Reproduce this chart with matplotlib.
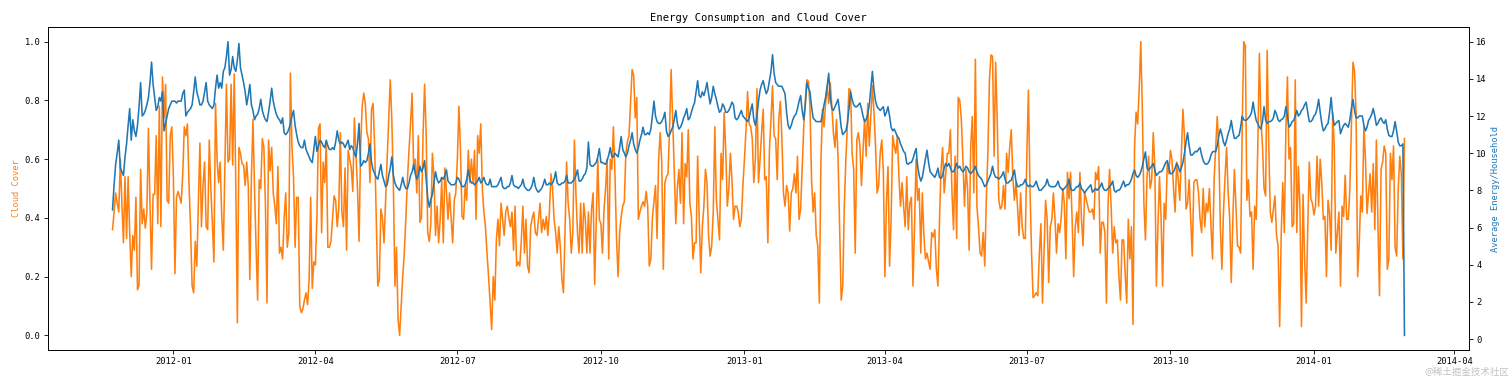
import matplotlib
matplotlib.use("Agg")
import matplotlib.pyplot as plt
import pandas as pd

# daily values, 2011-11-23 .. 2014-02-28
dates = pd.date_range("2011-11-23", "2014-02-28", freq="D")

cloud_cover = [
    0.36, 0.42, 0.485, 0.45, 0.42, 0.60, 0.45, 0.315, 0.54, 0.33,
    0.54, 0.35, 0.20, 0.34, 0.29, 0.47, 0.155, 0.17, 0.565, 0.38,
    0.43, 0.365, 0.42, 0.705, 0.45, 0.225, 0.48, 0.48, 0.68, 0.38,
    0.78, 0.37, 0.88, 0.74, 0.855, 0.46, 0.45, 0.68, 0.71, 0.54,
    0.21, 0.47, 0.49, 0.47, 0.45, 0.55, 0.71, 0.68, 0.72, 0.52,
    0.37, 0.168, 0.145, 0.32, 0.235, 0.45, 0.655, 0.37, 0.51, 0.59,
    0.37, 0.36, 0.665, 0.5, 0.38, 0.25, 0.79, 0.6, 0.52, 0.59,
    0.405, 0.29, 0.575, 0.855, 0.59, 0.6, 0.855, 0.58, 0.89, 0.51,
    0.043, 0.64, 0.62, 0.585, 0.58, 0.51, 0.59, 0.51, 0.19, 0.54,
    0.735, 0.5, 0.3, 0.12, 0.53, 0.5, 0.67, 0.64, 0.445, 0.11,
    0.665, 0.56, 0.64, 0.485, 0.44, 0.38, 0.575, 0.28, 0.3, 0.26,
    0.4, 0.485, 0.3, 0.35, 0.893, 0.64, 0.54, 0.3, 0.47, 0.47,
    0.1, 0.077, 0.09, 0.12, 0.145, 0.105, 0.19, 0.47, 0.16, 0.25,
    0.24, 0.405, 0.705, 0.72, 0.35, 0.59, 0.52, 0.66, 0.3, 0.3,
    0.32, 0.395, 0.475, 0.46, 0.37, 0.43, 0.69, 0.42, 0.37, 0.57,
    0.29, 0.63, 0.6, 0.57, 0.49, 0.74, 0.62, 0.5, 0.32, 0.64,
    0.78, 0.825, 0.79, 0.69, 0.67, 0.52, 0.77, 0.79, 0.64, 0.4,
    0.168, 0.19, 0.43, 0.4, 0.315, 0.46, 0.6, 0.735, 0.87, 0.735,
    0.51, 0.168, 0.3, 0.054, 0.0, 0.1, 0.2, 0.28, 0.4, 0.53,
    0.63, 0.72, 0.825, 0.565, 0.6, 0.485, 0.68, 0.385, 0.4, 0.68,
    0.855, 0.69, 0.35, 0.32, 0.38, 0.62, 0.54, 0.34, 0.44, 0.315,
    0.395, 0.53, 0.315, 0.57, 0.49, 0.395, 0.485, 0.4, 0.315, 0.46,
    0.485, 0.6, 0.78, 0.63, 0.405, 0.395, 0.51, 0.46, 0.63, 0.52,
    0.6, 0.52, 0.63, 0.395, 0.68, 0.62, 0.72, 0.5, 0.42, 0.37,
    0.28, 0.2, 0.11, 0.02, 0.2, 0.12, 0.325, 0.395, 0.305, 0.45,
    0.395, 0.34, 0.42, 0.44, 0.4, 0.37, 0.42, 0.29, 0.44, 0.236,
    0.25, 0.236, 0.325, 0.44, 0.28, 0.395, 0.236, 0.213, 0.37, 0.4,
    0.42, 0.35, 0.34, 0.395, 0.45, 0.35, 0.395, 0.36, 0.405, 0.34,
    0.42, 0.55, 0.5, 0.395, 0.35, 0.28, 0.37, 0.3, 0.19, 0.145,
    0.35, 0.59, 0.45, 0.395, 0.28, 0.35, 0.665, 0.48, 0.35, 0.28,
    0.45, 0.28, 0.45, 0.395, 0.28, 0.42, 0.28, 0.43, 0.485, 0.173,
    0.38, 0.6, 0.395, 0.38, 0.28, 0.43, 0.5, 0.6, 0.26, 0.6,
    0.565, 0.71, 0.55, 0.33, 0.2, 0.35, 0.405, 0.44, 0.455, 0.62,
    0.66, 0.68, 0.79, 0.905, 0.885, 0.74, 0.81, 0.395, 0.42, 0.44,
    0.455, 0.44, 0.49, 0.44, 0.236, 0.26, 0.4, 0.455, 0.51, 0.33,
    0.6, 0.69, 0.59, 0.225, 0.52, 0.54, 0.55, 0.7, 0.905, 0.735,
    0.565, 0.38, 0.5, 0.565, 0.45, 0.69, 0.38, 0.585, 0.54, 0.7,
    0.45, 0.405, 0.26, 0.315, 0.315, 0.61, 0.4, 0.213, 0.37, 0.44,
    0.565, 0.52, 0.34, 0.27, 0.305, 0.42, 0.71, 0.46, 0.395, 0.325,
    0.62, 0.53, 0.758, 0.63, 0.44, 0.5, 0.62, 0.53, 0.395, 0.44,
    0.44, 0.42, 0.37, 0.395, 0.51, 0.6, 0.7, 0.83, 0.72, 0.71,
    0.67, 0.52, 0.6, 0.84, 0.52, 0.6, 0.69, 0.77, 0.53, 0.54,
    0.315, 0.63, 0.735, 0.85, 0.68, 0.67, 0.53, 0.735, 0.797, 0.67,
    0.485, 0.44, 0.51, 0.485, 0.355, 0.485, 0.5, 0.55, 0.485, 0.61,
    0.395, 0.43, 0.575, 0.71, 0.8, 0.87, 0.865, 0.78, 0.53, 0.42,
    0.485, 0.34, 0.305, 0.11, 0.59, 0.77, 0.71, 0.79, 0.85, 0.79,
    0.86, 0.78, 0.69, 0.64, 0.735, 0.6, 0.37, 0.12, 0.168, 0.44,
    0.6, 0.72, 0.84, 0.835, 0.62, 0.565, 0.28, 0.665, 0.69, 0.645,
    0.51, 0.63, 0.735, 0.61, 0.79, 0.645, 0.75, 0.85, 0.76, 0.645,
    0.485, 0.51, 0.62, 0.665, 0.565, 0.2, 0.45, 0.575, 0.236, 0.395,
    0.68, 0.645, 0.62, 0.68, 0.54, 0.44, 0.52, 0.44, 0.37, 0.54,
    0.36, 0.45, 0.47, 0.168, 0.37, 0.6, 0.46, 0.5, 0.28, 0.485,
    0.34, 0.26, 0.28, 0.25, 0.225, 0.35, 0.335, 0.36, 0.225, 0.168,
    0.395, 0.565, 0.64, 0.485, 0.55, 0.62, 0.62, 0.7, 0.485, 0.36,
    0.61, 0.33, 0.81, 0.8, 0.735, 0.6, 0.44, 0.565, 0.5, 0.29,
    0.64, 0.745, 0.485, 0.94, 0.44, 0.37, 0.28, 0.27, 0.35, 0.236,
    0.46, 0.62, 0.87, 0.955, 0.95, 0.61, 0.93, 0.735, 0.46, 0.43,
    0.44, 0.51, 0.43, 0.62, 0.555, 0.64, 0.7, 0.54, 0.46, 0.52,
    0.44, 0.34, 0.485, 0.37, 0.33, 0.33, 0.62, 0.835, 0.5, 0.28,
    0.128, 0.135, 0.145, 0.135, 0.28, 0.38, 0.11, 0.28, 0.46, 0.395,
    0.18, 0.37, 0.395, 0.485, 0.4, 0.28, 0.38, 0.35, 0.4, 0.5,
    0.45, 0.26, 0.555, 0.465, 0.555, 0.395, 0.2, 0.37, 0.42, 0.35,
    0.555, 0.395, 0.305, 0.485, 0.465, 0.44, 0.42, 0.42, 0.43, 0.395,
    0.555, 0.53, 0.575, 0.28, 0.385, 0.385, 0.35, 0.11, 0.44, 0.565,
    0.44, 0.28, 0.37, 0.315, 0.325, 0.2, 0.12, 0.325, 0.325, 0.21,
    0.11, 0.395, 0.26, 0.37, 0.037, 0.64, 0.76, 0.72, 0.84, 1.0,
    0.77, 0.45, 0.325, 0.54, 0.61, 0.5, 0.53, 0.69, 0.575, 0.168,
    0.37, 0.54, 0.405, 0.168, 0.45, 0.395, 0.59, 0.55, 0.63, 0.6,
    0.5, 0.42, 0.59, 0.53, 0.46, 0.62, 0.77, 0.68, 0.43, 0.45,
    0.53, 0.395, 0.27, 0.52, 0.53, 0.53, 0.485, 0.395, 0.35, 0.5,
    0.37, 0.45, 0.42, 0.5, 0.37, 0.26, 0.53, 0.64, 0.745, 0.64,
    0.37, 0.225, 0.42, 0.54, 0.64, 0.485, 0.395, 0.18, 0.395, 0.565,
    0.44, 0.305, 0.3, 0.28, 0.71, 1.0, 0.985, 0.46, 0.53, 0.405,
    0.42, 0.225, 0.44, 0.395, 0.645, 0.96, 0.735, 0.645, 0.5, 0.475,
    0.97, 0.655, 0.42, 0.385, 0.43, 0.475, 0.34, 0.305, 0.03, 0.34,
    0.52, 0.35, 0.7, 0.88, 0.6, 0.64, 0.37, 0.38, 0.87, 0.35,
    0.575, 0.44, 0.03, 0.48, 0.26, 0.11, 0.36, 0.59, 0.465, 0.45,
    0.41, 0.44, 0.61, 0.44, 0.6, 0.52, 0.395, 0.405, 0.2, 0.46,
    0.415, 0.29, 0.76, 0.645, 0.28, 0.35, 0.42, 0.168, 0.44, 0.405,
    0.545, 0.395, 0.395, 0.5, 0.72, 0.93, 0.9, 0.755, 0.2, 0.31,
    0.475, 0.42, 0.71, 0.6, 0.415, 0.485, 0.55, 0.42, 0.585, 0.36,
    0.665, 0.38, 0.135, 0.565, 0.59, 0.645, 0.62, 0.225, 0.26, 0.62,
    0.53, 0.645, 0.3, 0.27, 0.5, 0.61, 0.55, 0.26, 0.67,
]

avg_energy = [
    6.95, 8.3, 9.4, 10.0, 10.7, 9.2, 9.0, 8.8, 9.8, 10.5,
    11.5, 12.4, 10.7, 11.8, 11.2, 10.9, 11.5, 12.5, 13.8, 12.0,
    12.1, 12.3, 12.6, 13.0, 13.8, 14.9, 13.7, 13.0, 12.3, 12.5,
    13.0, 12.8, 13.3, 11.2, 11.6, 12.0, 12.4, 12.6, 12.8, 12.8,
    12.8, 12.7, 12.8, 12.8, 12.8, 13.2, 13.4, 12.0, 12.2, 12.3,
    12.4, 12.6, 13.3, 14.1, 13.3, 13.0, 12.6, 12.6, 12.8, 13.3,
    13.8, 12.8, 12.6, 12.5, 12.4, 12.6, 13.5, 14.2, 13.5, 13.8,
    13.5, 14.4, 14.6, 15.2, 16.0, 14.2, 14.5, 15.2, 14.6, 14.4,
    15.0, 15.9, 14.6, 14.2, 13.8, 13.3, 12.6, 13.1, 13.7, 12.6,
    12.3, 11.8, 12.0, 12.1, 12.4, 12.9, 12.3, 12.0, 11.8, 11.7,
    12.2, 12.8, 13.5, 12.8, 12.4, 12.1, 11.9, 11.8, 11.6, 11.9,
    11.1, 11.0, 11.1, 11.3, 11.6, 12.0, 12.3, 11.5, 11.0, 10.6,
    10.4, 10.3, 10.3, 10.7, 10.2, 10.0, 9.8, 9.6, 9.5, 10.2,
    10.9, 10.1, 10.4, 10.7, 10.6, 10.4, 10.3, 10.7, 10.4, 10.2,
    10.2, 10.3, 10.2, 10.6, 11.2, 10.7, 10.5, 10.6, 10.5, 10.3,
    10.5, 10.7, 10.2, 10.4, 10.3, 10.0, 9.8, 10.5, 11.6, 9.3,
    9.4, 9.6, 9.5, 9.6, 10.0, 10.5, 9.5, 9.1, 8.9, 8.7,
    8.6, 9.0, 9.4, 8.8, 8.5, 8.2, 8.3, 8.8, 9.2, 9.8,
    8.8, 8.4, 8.2, 8.1, 8.0, 8.3, 8.7, 8.3, 8.1, 8.1,
    8.4, 8.8, 9.0, 9.4, 8.9, 8.6, 8.8, 9.3, 9.0, 9.2,
    9.6, 8.6, 7.6, 7.1, 7.5, 7.8, 8.4, 9.0, 8.6, 8.4,
    8.5, 8.7, 8.6, 8.8, 9.1, 8.5, 8.4, 8.3, 8.3, 8.3,
    8.4, 8.7, 8.6, 8.4, 8.2, 8.2, 8.3, 8.6, 9.1, 8.6,
    8.4, 8.4, 8.3, 8.4, 8.5, 8.7, 8.4, 8.5, 8.7, 8.4,
    8.3, 8.3, 8.6, 8.2, 8.2, 8.2, 8.2, 8.3, 8.5, 8.7,
    8.2, 8.1, 8.1, 8.2, 8.2, 8.4, 8.8, 8.3, 8.2, 8.2,
    8.1, 8.2, 8.3, 8.6, 8.2, 8.1, 8.0, 8.0, 8.1, 8.3,
    8.7, 8.2, 8.0, 7.9, 8.0, 8.1, 8.3, 8.6, 8.3, 8.3,
    8.4, 8.3, 8.4, 8.6, 9.0, 8.4, 8.3, 8.3, 8.4, 8.4,
    8.5, 8.8, 8.4, 8.4, 8.4, 8.5, 8.6, 8.8, 9.1, 8.5,
    8.5, 8.6, 8.8, 8.9, 9.2, 10.6, 9.4, 9.3, 9.3, 9.4,
    9.5, 9.8, 10.25, 9.5, 9.5, 9.45, 9.4, 9.6, 9.9, 10.3,
    9.8, 9.8, 10.0, 9.9, 9.8, 10.3, 10.9, 10.2, 10.0, 9.8,
    10.0, 10.4, 10.7, 11.1, 10.5, 10.2, 10.0, 10.3, 10.7, 11.0,
    11.4, 11.0, 11.0, 11.1, 11.0, 11.3, 12.0, 12.8, 12.0, 11.7,
    11.6, 11.6, 11.7, 11.9, 12.2, 11.2, 10.9, 11.0, 11.2, 11.4,
    11.8, 12.3, 11.6, 11.3, 11.4, 11.6, 11.9, 12.1, 12.4, 11.8,
    11.9, 12.2, 12.5, 12.7, 13.3, 13.9, 13.1, 13.0, 13.3, 13.1,
    13.4, 13.8, 13.2, 12.65, 13.0, 13.6, 13.2, 12.9, 12.5, 12.2,
    12.3, 12.65, 12.5, 12.2, 12.2, 12.3, 12.5, 12.75, 12.6, 11.9,
    11.8, 11.9, 12.1, 12.3, 12.0, 11.9, 11.8, 11.7, 11.9, 12.3,
    12.65, 11.8, 11.5, 12.0, 12.8, 13.4, 13.7, 13.9, 13.5, 13.2,
    13.4, 13.9, 14.4, 15.3, 14.3, 13.8, 13.7, 13.6, 13.6, 13.6,
    13.4, 13.2, 12.2, 11.5, 11.3, 11.5, 11.8, 12.0, 12.1, 12.4,
    12.8, 13.1, 12.3, 11.8, 12.6, 13.8, 13.5, 13.3, 12.5, 11.9,
    11.8, 11.7, 11.7, 11.7, 11.7, 12.1, 12.6, 13.0, 13.6, 14.3,
    13.0, 12.4, 12.3, 12.5, 12.7, 12.9, 12.2, 11.4, 11.0, 11.1,
    11.2, 11.6, 12.4, 13.3, 12.9, 12.6, 12.5, 12.5, 12.6, 12.7,
    12.4, 12.0, 11.7, 11.8, 12.1, 12.6, 13.5, 14.4, 13.4, 12.8,
    12.5, 12.4, 12.3, 12.4, 12.5, 12.0, 12.2, 12.5, 12.0, 11.4,
    11.2, 11.3, 11.1, 10.9, 10.8, 10.5, 10.3, 10.1, 10.0, 9.45,
    9.4, 9.5, 9.5, 9.7, 10.0, 10.25, 9.3, 8.8, 8.5, 8.7,
    9.2, 9.7, 10.16, 9.5, 9.0, 8.9, 8.8, 8.7, 8.9, 9.2,
    8.7, 8.65, 8.8, 9.2, 9.45, 9.3, 9.45, 9.2, 9.0, 9.0,
    9.2, 9.45, 9.2, 9.3, 9.1, 9.0, 9.1, 9.3, 9.2, 9.0,
    8.9, 9.0, 9.1, 9.3, 9.0, 8.8, 8.7, 8.6, 8.4, 8.2,
    8.3, 8.5, 8.7, 8.9, 9.3, 8.9, 8.7, 8.7, 8.6, 8.7,
    8.8, 9.0, 8.6, 8.4, 8.4, 8.5, 8.55, 8.8, 9.1, 8.5,
    8.2, 8.2, 8.3, 8.3, 8.4, 8.6, 8.3, 8.2, 8.3, 8.2,
    8.2, 8.3, 8.5, 8.2, 8.0, 8.0, 8.1, 8.2, 8.3, 8.6,
    8.3, 8.2, 8.2, 8.2, 8.2, 8.3, 8.5, 8.2, 8.1, 8.0,
    8.1, 8.2, 8.3, 8.6, 8.1, 8.0, 8.0, 8.1, 8.2, 8.2,
    8.4, 8.1, 8.0, 7.85, 8.0, 8.1, 8.2, 8.3, 7.9, 8.0,
    8.1, 8.0, 8.1, 8.2, 8.4, 8.1, 8.0, 8.0, 8.1, 8.2,
    8.3, 8.5, 8.0, 7.9, 8.0, 8.0, 8.1, 8.3, 8.5, 8.2,
    8.3, 8.3, 8.4, 8.6, 8.9, 9.1, 8.8, 8.7, 8.8, 9.0,
    9.3, 9.7, 10.07, 9.2, 9.1, 9.2, 9.3, 9.45, 9.1, 8.8,
    8.9, 9.0, 9.0, 9.1, 9.3, 9.5, 9.6, 9.2, 8.9, 8.9,
    9.0, 9.2, 9.45, 9.3, 9.0, 9.2, 9.5, 10.0, 10.6, 11.1,
    10.4, 9.9, 9.9, 10.0, 10.1, 10.07, 10.2, 10.3, 9.9, 9.6,
    9.45, 9.4, 9.45, 9.6, 9.9, 10.07, 10.1, 10.07, 10.4, 10.9,
    11.3, 11.0, 10.6, 10.4, 10.7, 11.05, 11.3, 11.76, 11.2, 10.8,
    10.8, 10.9, 10.96, 11.4, 12.0, 11.8, 11.76, 11.8, 11.9, 12.0,
    12.2, 12.75, 12.2, 11.76, 11.6, 11.4, 11.3, 11.7, 12.5, 11.8,
    11.6, 11.7, 11.7, 11.76, 11.9, 12.3, 12.1, 11.8, 11.7, 11.8,
    11.85, 12.0, 12.5, 12.0, 11.4, 11.5, 11.7, 11.76, 12.0, 12.3,
    12.0, 12.1, 12.3, 12.4, 12.6, 12.75, 12.2, 11.7, 11.7, 11.8,
    12.0, 12.1, 12.4, 12.9, 12.2, 11.6, 11.2, 11.3, 11.5, 11.6,
    12.2, 13.0, 12.0, 11.5, 11.6, 11.7, 11.76, 11.05, 11.3, 11.5,
    11.6, 11.5, 11.4, 11.8, 12.4, 12.9, 12.3, 11.9, 11.9, 12.0,
    12.0, 12.0, 11.5, 11.2, 11.4, 11.76, 11.9, 12.1, 12.4, 12.0,
    11.5, 11.6, 11.8, 11.9, 11.7, 11.6, 11.8, 11.3, 10.96, 10.9,
    10.9, 11.2, 11.7, 11.2, 10.6, 10.4, 10.4, 10.5, 0.2,
]

plt.rcParams['font.family'] = ['DejaVu Sans Mono']

fig, ax1 = plt.subplots(figsize=(20, 5), dpi=75.6)
fig.subplots_adjust(left=0.0317, right=0.9716, bottom=0.074, top=0.9286)

ax1.plot(dates, cloud_cover, color='tab:orange')
ax1.set_ylabel('Cloud Cover', color='tab:orange', fontsize=8.3)
ax1.tick_params(labelsize=8.3)

ax2 = ax1.twinx()
ax2.plot(dates, avg_energy, color='tab:blue')
ax2.set_ylabel('Average Energy/Household', color='tab:blue', fontsize=8.3)
ax2.tick_params(labelsize=8.3)

ax1.set_title('Energy Consumption and Cloud Cover', fontsize=10)

# site watermark, kept clear of the last tick label
fig.text(0.998, 0.002, '@稀土掘金技术社区', ha='right', va='bottom', fontsize=9,
         color='#999999', alpha=0.6, family=['Noto Sans CJK SC', 'DejaVu Sans'])

fig.savefig('out.png', dpi=75.6)
